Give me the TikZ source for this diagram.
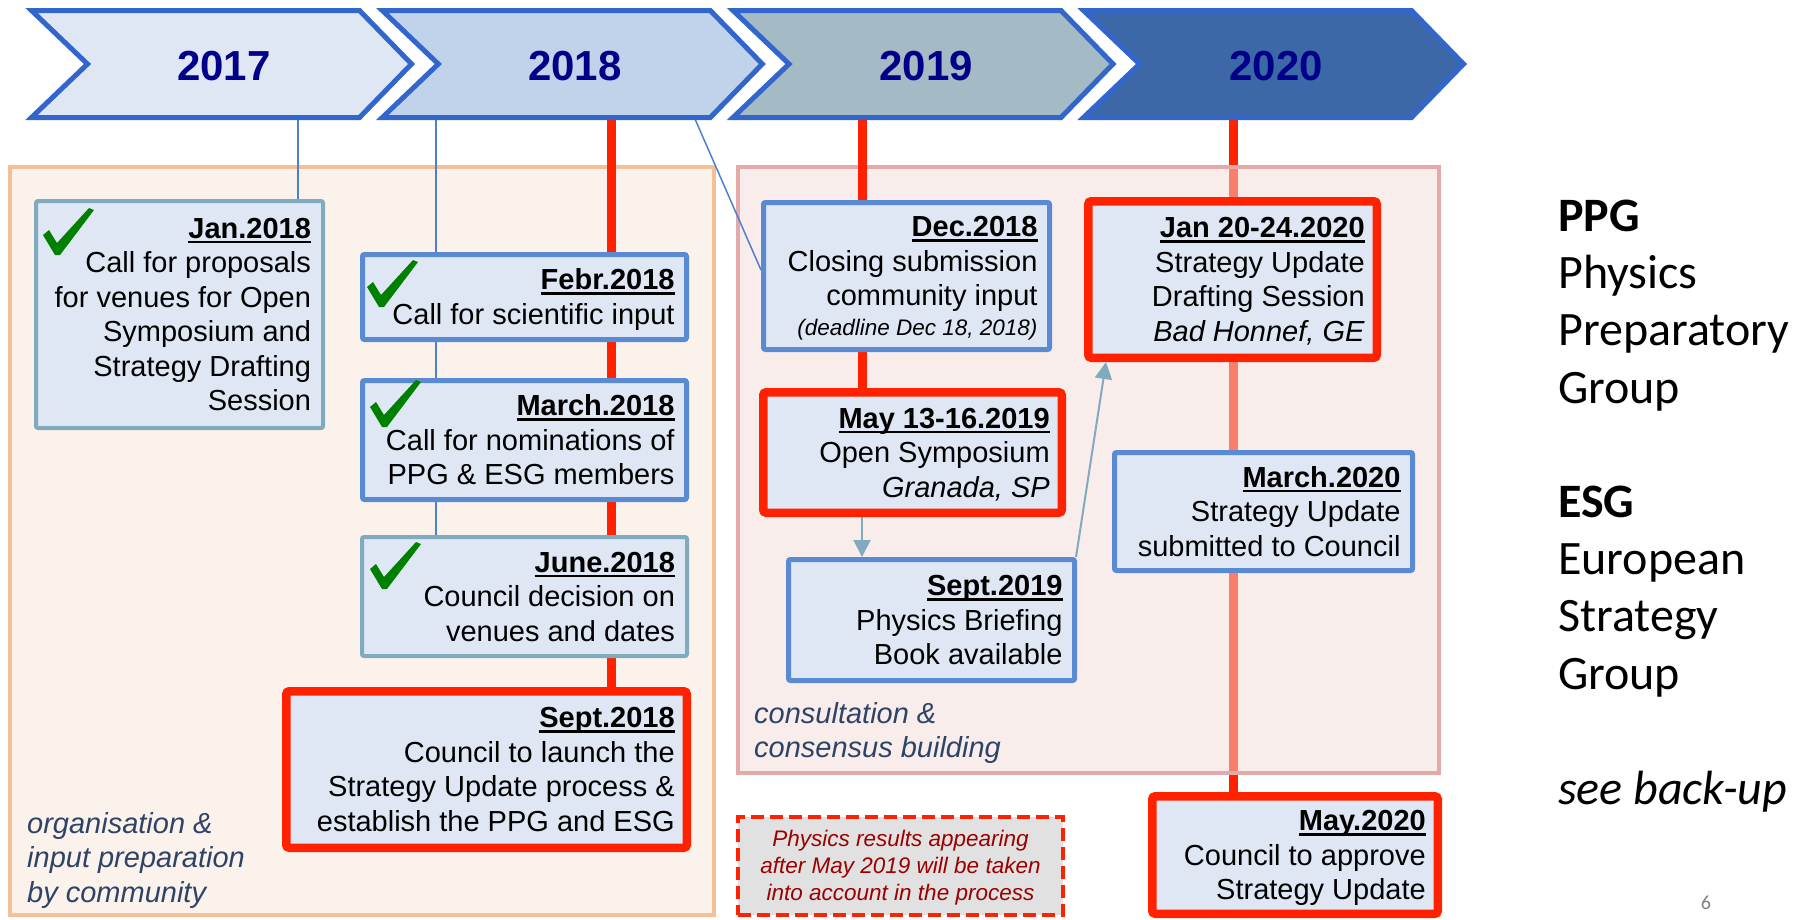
\documentclass[tikz,border=0pt]{standalone}
\usepackage{fontspec}
\setmainfont{Liberation Sans}
\newfontfamily\calib{Carlito}
\usetikzlibrary{arrows.meta}
\definecolor{chevblue}{HTML}{3366CC}
\definecolor{fillA}{HTML}{DFE7F5}
\definecolor{fillB}{HTML}{C1D2EB}
\definecolor{fillC}{HTML}{A4BAC4}
\definecolor{fillD}{HTML}{3C68A7}
\definecolor{yearcol}{HTML}{000088}
\definecolor{boxfill}{HTML}{E0E7F4}
\definecolor{boxblue}{HTML}{5A8AD2}
\definecolor{boxteal}{HTML}{7FABBD}
\definecolor{evred}{HTML}{FF2200}
\definecolor{orgfill}{HTML}{FBF2EC}
\definecolor{orgdraw}{HTML}{F5BF98}
\definecolor{consfill}{RGB}{243,220,216}
\definecolor{consdraw}{HTML}{E4AAAA}
\definecolor{lblcol}{HTML}{2E4466}
\definecolor{notefill}{HTML}{E1E1E1}
\definecolor{notetext}{HTML}{9A0000}
\definecolor{chkgreen}{HTML}{008000}
\definecolor{thinblue}{HTML}{4F80D0}
\pgfdeclarelayer{lA}\pgfdeclarelayer{lB}\pgfdeclarelayer{lC}
\pgfsetlayers{lA,lB,lC,main}
\newcommand\udate[1]{\setbox0\hbox{\bfseries #1}\rlap{\vrule width\wd0 height -2.5pt depth 5pt}\box0}
\newcommand\tstrut{\rule[-0.24em]{0pt}{1.17em}}
\tikzset{
  chev/.style={draw=chevblue, line width=5pt},
  yeartxt/.style={font=\bfseries\fontsize{42}{48}\selectfont, text=yearcol, inner sep=0pt},
  evbox/.style={fill=boxfill, align=flush right, inner xsep=12pt, inner ysep=0pt, rounded corners=2pt,
    font=\fontsize{29}{34.5}\selectfont, execute at begin node=\tstrut, execute at end node=\tstrut},
  bluebox/.style={evbox, draw=boxblue, line width=5pt},
  tealbox/.style={evbox, draw=boxteal, line width=4pt},
  redbox/.style={evbox, draw=evred, line width=8.5pt, rounded corners=3pt},
  sz/.code 2 args={\pgfmathsetlengthmacro\tw{#1-24}\edef\tmpsz{\noexpand\pgfkeysalso{minimum width=#1, minimum height=#2, text width=\tw}}\tmpsz},
  notebox/.style={fill=notefill, draw=evred, line width=4pt, dash pattern=on 13pt off 6pt, align=flush center, text=notetext,
    font=\itshape\fontsize{22.5}{27}\selectfont, execute at begin node=\tstrut, execute at end node=\tstrut},
  thinln/.style={draw=thinblue, line width=1.5pt},
  redln/.style={draw=evred, line width=9pt},
  tealarr/.style={draw=boxteal, line width=2pt, -{Triangle[length=17pt,width=17pt]}},
  reglbl/.style={anchor=base west, align=flush left, inner sep=0pt, text=lblcol, font=\itshape\fontsize{29}{34.5}\selectfont},
  sidetxt/.style={anchor=base west, align=flush left, inner sep=0pt, font=\calib\fontsize{48}{57.3}\selectfont},
  pics/chk/.style={code={\fill[chkgreen] (0,27) -- (6,22) -- (14,35) -- (46,0) -- (51,2) -- (17,47) -- (12,47) -- cycle;}}
}
\begin{document}
\begin{tikzpicture}[x=1pt,y=-1pt]
\useasboundingbox (0,0) rectangle (1795,919);
% chevrons
\draw[chev, fill=fillA, shift={(31.5,0)}] (0,10.5) -- (328,10.5) -- (380,64) -- (328,117.5) -- (0,117.5) -- (56,64) -- cycle;
\draw[chev, fill=fillB, shift={(382.3,0)}] (0,10.5) -- (328,10.5) -- (380,64) -- (328,117.5) -- (0,117.5) -- (56,64) -- cycle;
\draw[chev, fill=fillC, shift={(733,0)}] (0,10.5) -- (328,10.5) -- (380,64) -- (328,117.5) -- (0,117.5) -- (56,64) -- cycle;
\draw[chev, fill=fillD, shift={(1083.5,0)}] (0,10.5) -- (328,10.5) -- (380,64) -- (328,117.5) -- (0,117.5) -- (56,64) -- cycle;
\node[yeartxt] (y17) at (224,66) {2017};
\node[yeartxt] (y18) at (575,66) {2018};
\node[yeartxt] (y19) at (926,66) {2019};
\node[yeartxt] (y20) at (1276,66) {2020};
\coordinate (b17) at (298,118);
\coordinate (b18) at (436,118);
\coordinate (r18) at (611,118);
\coordinate (d18) at (695,119);
\coordinate (r19) at (862,118);
\coordinate (r20) at (1233,118);
% event boxes
\node[tealbox, sz={287}{227}] (jan) at (179.5,314.5) {\udate{Jan.2018}\\Call for proposals\\for venues for Open\\Symposium and\\Strategy Drafting\\Session};
\node[bluebox, sz={324}{85}] (feb) at (524.5,297) {\udate{Febr.2018}\\Call for scientific input};
\node[bluebox, sz={324}{119}] (mar) at (524.5,440) {\udate{March.2018}\\Call for nominations of\\PPG \& ESG members};
\node[tealbox, sz={325}{119}] (jun) at (524.5,596.5) {\udate{June.2018}\\Council decision on\\venues and dates};
\node[redbox, sz={400.5}{156.5}] (sep18) at (486.5,769.5) {\udate{Sept.2018}\\Council to launch the\\Strategy Update process \&\\establish the PPG and ESG};
\node[bluebox, sz={286}{147}] (dec) at (906.5,276) {\udate{Dec.2018}\\Closing submission\\community input\\[-4.5pt]{\fontsize{22.5}{27}\selectfont\itshape (deadline Dec 18, 2018)}};
\node[redbox, sz={298.5}{120.5}] (may19) at (912.5,452.5) {\udate{May 13-16.2019}\\Open Symposium\\\textit{Granada, SP}};
\node[bluebox, sz={286}{121}] (sep19) at (931.5,620) {\udate{Sept.2019}\\Physics Briefing\\Book available};
\node[redbox, sz={288.5}{156.5}] (jan20) at (1232.5,279.5) {\udate{Jan 20-24.2020}\\Strategy Update\\Drafting Session\\\textit{Bad Honnef, GE}};
\node[bluebox, sz={298}{118}] (mar20) at (1263.5,511.5) {\udate{March.2020}\\Strategy Update\\submitted to Council};
\node[redbox, sz={285.5}{117.5}] (may20) at (1295,855) {\udate{May.2020}\\Council to approve\\Strategy Update};
\node[notebox, minimum width=325, minimum height=98, text width=305] (note) at (900.5,866) {Physics results appearing\\after May 2019 will be taken\\into account in the process};
% check marks
\pic at (43,208) {chk};
\pic at (367,260) {chk};
\pic at (370,380) {chk};
\pic at (370,542) {chk};
% region labels
\node[reglbl] (lblorg) at (27,902) {organisation \&\\input preparation\\by community};
\node[reglbl] (lblcons) at (754,757.5) {consultation \&\\consensus building};
% side text
\node[sidetxt] (ppg) at (1558,403) {\textbf{PPG}\\Physics\\Preparatory\\Group};
\node[sidetxt] (esg) at (1558,689) {\textbf{ESG}\\European\\Strategy\\Group};
\node[sidetxt] (backup) at (1558,804) {\textit{see back-up}};
\node[font=\calib\fontsize{20}{24}\selectfont, text=gray] (pnum) at (1706,903) {6};
% background layers
\begin{pgfonlayer}{lA}
\fill[white] (0,0) rectangle (1795,919);
\node[fill=orgfill, draw=orgdraw, line width=4pt, minimum width=704, minimum height=748, inner sep=0pt] (regorg) at (362,541) {};
\draw[redln] (r20) -- (r20 |- may20.north);
\end{pgfonlayer}
\begin{pgfonlayer}{lB}
\node[fill=consfill, fill opacity=0.5, draw=consdraw, line width=4pt, minimum width=701, minimum height=606, inner sep=0pt] (regcons) at (1088.5,470) {};
\end{pgfonlayer}
\begin{pgfonlayer}{lC}
\draw[thinln] (b17) -- (b17 |- jan.north);
\draw[thinln] (b18) -- (b18 |- jun.north);
\draw[redln] (r18) -- (r18 |- sep18.north);
\draw[thinln] (d18) -- ([yshift=6pt]dec.west);
\draw[redln] (r19) -- (r19 |- may19.north);
\draw[tealarr] (r19 |- may19.south) -- (r19 |- sep19.north);
\draw[tealarr] ([xshift=-1pt]sep19.north east) -- ([xshift=22pt]jan20.south west);
\end{pgfonlayer}
\end{tikzpicture}
\end{document}
